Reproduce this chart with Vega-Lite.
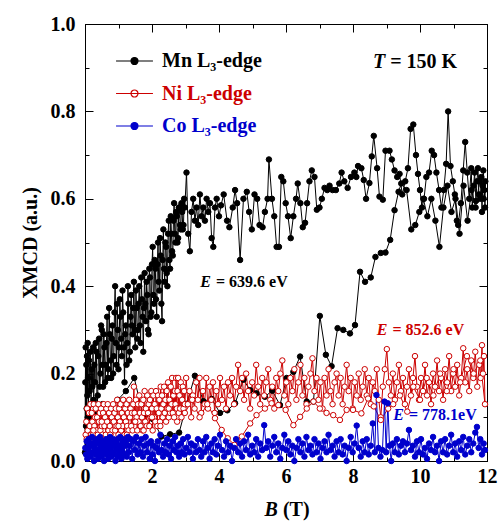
{
"$schema":"https://vega.github.io/schema/vega-lite/v6.json",
"autosize":{"type":"none"},
"width":402,"height":437,
"padding":{"left":85,"top":24,"right":11,"bottom":60},
"config":{
 "font":"Liberation Serif",
 "view":{"stroke":"black","strokeWidth":1},
 "axis":{"grid":false,"domainColor":"black","tickColor":"black","labelColor":"black","titleColor":"black","labelFont":"Liberation Serif","titleFont":"Liberation Serif","labelFontSize":20,"labelFontWeight":"bold","titleFontSize":20,"titleFontWeight":"bold","labelFlush":false,"labelOverlap":false,"tickWidth":1,"domainWidth":1}
},
"data":{"values":[
{"s":"M","x":0,"y":0.02},{"s":"M","x":0.01,"y":0.18},{"s":"M","x":0.02,"y":0.26},{"s":"M","x":0.03,"y":0.08},{"s":"M","x":0.04,"y":0.22},{"s":"M","x":0.05,"y":0.12},{"s":"M","x":0.06,"y":0.24},{"s":"M","x":0.07,"y":0.15},{"s":"M","x":0.08,"y":0.27},{"s":"M","x":0.09,"y":0.19},{"s":"M","x":0.1,"y":0.1},{"s":"M","x":0.12,"y":0.23},{"s":"M","x":0.14,"y":0.16},{"s":"M","x":0.16,"y":0.25},{"s":"M","x":0.18,"y":0.13},{"s":"M","x":0.2,"y":0.21},{"s":"M","x":0.22,"y":0.17},{"s":"M","x":0.24,"y":0.26},{"s":"M","x":0.26,"y":0.14},{"s":"M","x":0.28,"y":0.22},
{"s":"M","x":0.3,"y":0.18},{"s":"M","x":0.32,"y":0.27},{"s":"M","x":0.34,"y":0.25},{"s":"M","x":0.36,"y":0.12},{"s":"M","x":0.38,"y":0.15},{"s":"M","x":0.4,"y":0.24},{"s":"M","x":0.42,"y":0.28},{"s":"M","x":0.44,"y":0.17},{"s":"M","x":0.46,"y":0.2},{"s":"M","x":0.48,"y":0.31},{"s":"M","x":0.5,"y":0.3},{"s":"M","x":0.52,"y":0.22},{"s":"M","x":0.54,"y":0.17},{"s":"M","x":0.56,"y":0.29},{"s":"M","x":0.58,"y":0.26},{"s":"M","x":0.6,"y":0.18},{"s":"M","x":0.62,"y":0.22},{"s":"M","x":0.64,"y":0.27},{"s":"M","x":0.66,"y":0.33},{"s":"M","x":0.68,"y":0.19},{"s":"M","x":0.7,"y":0.21},{"s":"M","x":0.72,"y":0.35},{"s":"M","x":0.74,"y":0.29},{"s":"M","x":0.76,"y":0.23},{"s":"M","x":0.78,"y":0.19},{"s":"M","x":0.8,"y":0.28},{"s":"M","x":0.82,"y":0.31},{"s":"M","x":0.84,"y":0.2},{"s":"M","x":0.86,"y":0.24},{"s":"M","x":0.88,"y":0.34},{"s":"M","x":0.9,"y":0.4},{"s":"M","x":0.92,"y":0.27},{"s":"M","x":0.94,"y":0.22},{"s":"M","x":0.96,"y":0.36},{"s":"M","x":0.98,"y":0.3},{"s":"M","x":1,"y":0.21},{"s":"M","x":1.02,"y":0.26},{"s":"M","x":1.04,"y":0.37},{"s":"M","x":1.06,"y":0.33},{"s":"M","x":1.08,"y":0.28},{"s":"M","x":1.1,"y":0.24},{"s":"M","x":1.12,"y":0.39},{"s":"M","x":1.14,"y":0.34},{"s":"M","x":1.16,"y":0.26},{"s":"M","x":1.18,"y":0.18},{"s":"M","x":1.2,"y":0.29},{"s":"M","x":1.22,"y":0.31},{"s":"M","x":1.24,"y":0.22},{"s":"M","x":1.26,"y":0.27},{"s":"M","x":1.28,"y":0.4},{"s":"M","x":1.3,"y":0.36},{"s":"M","x":1.32,"y":0.23},{"s":"M","x":1.34,"y":0.25},{"s":"M","x":1.36,"y":0.33},{"s":"M","x":1.38,"y":0.38},{"s":"M","x":1.4,"y":0.31},{"s":"M","x":1.42,"y":0.29},{"s":"M","x":1.44,"y":0.35},{"s":"M","x":1.46,"y":0.41},{"s":"M","x":1.48,"y":0.3},{"s":"M","x":1.5,"y":0.26},{"s":"M","x":1.52,"y":0.39},{"s":"M","x":1.54,"y":0.35},{"s":"M","x":1.56,"y":0.28},{"s":"M","x":1.58,"y":0.3},{"s":"M","x":1.6,"y":0.36},{"s":"M","x":1.62,"y":0.4},{"s":"M","x":1.64,"y":0.31},{"s":"M","x":1.66,"y":0.27},{"s":"M","x":1.68,"y":0.42},{"s":"M","x":1.7,"y":0.37},{"s":"M","x":1.72,"y":0.33},{"s":"M","x":1.74,"y":0.25},{"s":"M","x":1.76,"y":0.35},{"s":"M","x":1.78,"y":0.43},{"s":"M","x":1.8,"y":0.36},{"s":"M","x":1.82,"y":0.32},{"s":"M","x":1.84,"y":0.41},{"s":"M","x":1.86,"y":0.38},{"s":"M","x":1.88,"y":0.3},{"s":"M","x":1.9,"y":0.29},{"s":"M","x":1.92,"y":0.44},{"s":"M","x":1.94,"y":0.42},{"s":"M","x":1.96,"y":0.33},{"s":"M","x":1.98,"y":0.34},{"s":"M","x":2,"y":0.45},{"s":"M","x":2.02,"y":0.49},{"s":"M","x":2.04,"y":0.38},{"s":"M","x":2.06,"y":0.36},{"s":"M","x":2.08,"y":0.46},{"s":"M","x":2.1,"y":0.44},{"s":"M","x":2.12,"y":0.37},{"s":"M","x":2.14,"y":0.33},{"s":"M","x":2.16,"y":0.45},{"s":"M","x":2.18,"y":0.5},{"s":"M","x":2.2,"y":0.41},{"s":"M","x":2.22,"y":0.39},{"s":"M","x":2.24,"y":0.51},{"s":"M","x":2.26,"y":0.47},{"s":"M","x":2.28,"y":0.36},{"s":"M","x":2.3,"y":0.32},{"s":"M","x":2.32,"y":0.46},{"s":"M","x":2.34,"y":0.53},{"s":"M","x":2.36,"y":0.44},{"s":"M","x":2.38,"y":0.41},{"s":"M","x":2.4,"y":0.5},{"s":"M","x":2.42,"y":0.49},{"s":"M","x":2.44,"y":0.43},{"s":"M","x":2.46,"y":0.4},{"s":"M","x":2.48,"y":0.52},{"s":"M","x":2.5,"y":0.55},{"s":"M","x":2.52,"y":0.46},{"s":"M","x":2.54,"y":0.44},{"s":"M","x":2.56,"y":0.56},{"s":"M","x":2.58,"y":0.52},{"s":"M","x":2.6,"y":0.48},{"s":"M","x":2.62,"y":0.47},{"s":"M","x":2.64,"y":0.55},{"s":"M","x":2.66,"y":0.59},{"s":"M","x":2.68,"y":0.52},{"s":"M","x":2.7,"y":0.5},{"s":"M","x":2.72,"y":0.57},{"s":"M","x":2.74,"y":0.56},{"s":"M","x":2.76,"y":0.5},{"s":"M","x":2.78,"y":0.51},{"s":"M","x":2.8,"y":0.58},{"s":"M","x":2.82,"y":0.58},{"s":"M","x":2.84,"y":0.54},{"s":"M","x":2.86,"y":0.53},{"s":"M","x":2.88,"y":0.59},{"s":"M","x":2.9,"y":0.57},{"s":"M","x":2.92,"y":0.53},{"s":"M","x":2.94,"y":0.54},{"s":"M","x":2.96,"y":0.6},{"s":"M","x":2.98,"y":0.58},
{"s":"M","x":3.03,"y":0.66},{"s":"M","x":3.08,"y":0.52},{"s":"M","x":3.13,"y":0.48},{"s":"M","x":3.18,"y":0.57},{"s":"M","x":3.23,"y":0.6},{"s":"M","x":3.28,"y":0.55},{"s":"M","x":3.33,"y":0.58},{"s":"M","x":3.38,"y":0.54},{"s":"M","x":3.43,"y":0.61},{"s":"M","x":3.48,"y":0.56},{"s":"M","x":3.53,"y":0.58},{"s":"M","x":3.58,"y":0.55},{"s":"M","x":3.63,"y":0.6},{"s":"M","x":3.68,"y":0.57},{"s":"M","x":3.73,"y":0.59},{"s":"M","x":3.78,"y":0.51},{"s":"M","x":3.83,"y":0.49},{"s":"M","x":3.88,"y":0.58},{"s":"M","x":3.93,"y":0.6},{"s":"M","x":4,"y":0.56},{"s":"M","x":4.06,"y":0.585},{"s":"M","x":4.14,"y":0.61},{"s":"M","x":4.24,"y":0.55},{"s":"M","x":4.31,"y":0.535},{"s":"M","x":4.41,"y":0.58},{"s":"M","x":4.48,"y":0.62},{"s":"M","x":4.54,"y":0.59},{"s":"M","x":4.63,"y":0.46},{"s":"M","x":4.73,"y":0.6},{"s":"M","x":4.83,"y":0.616},{"s":"M","x":4.9,"y":0.57},{"s":"M","x":4.98,"y":0.53},{"s":"M","x":5.06,"y":0.61},{"s":"M","x":5.14,"y":0.6},{"s":"M","x":5.21,"y":0.54},{"s":"M","x":5.3,"y":0.535},{"s":"M","x":5.37,"y":0.57},{"s":"M","x":5.45,"y":0.6},{"s":"M","x":5.49,"y":0.69},{"s":"M","x":5.58,"y":0.6},{"s":"M","x":5.65,"y":0.56},{"s":"M","x":5.72,"y":0.49},{"s":"M","x":5.79,"y":0.49},{"s":"M","x":5.86,"y":0.65},{"s":"M","x":5.92,"y":0.64},{"s":"M","x":5.99,"y":0.59},{"s":"M","x":6.06,"y":0.56},{"s":"M","x":6.14,"y":0.51},{"s":"M","x":6.22,"y":0.56},{"s":"M","x":6.3,"y":0.6},{"s":"M","x":6.35,"y":0.635},{"s":"M","x":6.43,"y":0.59},{"s":"M","x":6.5,"y":0.535},{"s":"M","x":6.57,"y":0.545},{"s":"M","x":6.63,"y":0.59},{"s":"M","x":6.7,"y":0.64},{"s":"M","x":6.77,"y":0.665},{"s":"M","x":6.85,"y":0.65},{"s":"M","x":6.92,"y":0.575},{"s":"M","x":7,"y":0.58},{"s":"M","x":7.07,"y":0.6},{"s":"M","x":7.15,"y":0.625},{"s":"M","x":7.23,"y":0.62},{"s":"M","x":7.3,"y":0.63},{"s":"M","x":7.39,"y":0.62},{"s":"M","x":7.49,"y":0.62},{"s":"M","x":7.59,"y":0.635},{"s":"M","x":7.66,"y":0.66},{"s":"M","x":7.74,"y":0.64},{"s":"M","x":7.84,"y":0.625},{"s":"M","x":7.94,"y":0.65},{"s":"M","x":8.04,"y":0.66},{"s":"M","x":8.1,"y":0.65},{"s":"M","x":8.15,"y":0.675},{"s":"M","x":8.25,"y":0.67},{"s":"M","x":8.32,"y":0.643},{"s":"M","x":8.39,"y":0.6},{"s":"M","x":8.49,"y":0.636},{"s":"M","x":8.56,"y":0.697},{"s":"M","x":8.62,"y":0.744},{"s":"M","x":8.72,"y":0.67},{"s":"M","x":8.79,"y":0.605},{"s":"M","x":8.89,"y":0.598},{"s":"M","x":8.97,"y":0.71},{"s":"M","x":9.09,"y":0.71},{"s":"M","x":9.16,"y":0.69},{"s":"M","x":9.24,"y":0.665},{"s":"M","x":9.32,"y":0.65},{"s":"M","x":9.39,"y":0.657},{"s":"M","x":9.47,"y":0.61},{"s":"M","x":9.56,"y":0.64},{"s":"M","x":9.64,"y":0.67},{"s":"M","x":9.72,"y":0.76},{"s":"M","x":9.8,"y":0.77},{"s":"M","x":9.88,"y":0.7},{"s":"M","x":9.94,"y":0.657},{"s":"M","x":10,"y":0.62},{"s":"M","x":10.06,"y":0.58},{"s":"M","x":10.12,"y":0.6},{"s":"M","x":10.19,"y":0.65},{"s":"M","x":10.27,"y":0.66},{"s":"M","x":10.35,"y":0.71},{"s":"M","x":10.42,"y":0.7},{"s":"M","x":10.49,"y":0.66},{"s":"M","x":10.57,"y":0.62},{"s":"M","x":10.64,"y":0.58},{"s":"M","x":10.71,"y":0.62},{"s":"M","x":10.78,"y":0.68},{"s":"M","x":10.84,"y":0.8},{"s":"M","x":10.91,"y":0.675},{"s":"M","x":10.98,"y":0.64},{"s":"M","x":11.04,"y":0.61},{"s":"M","x":11.1,"y":0.55},{"s":"M","x":11.14,"y":0.54},{"s":"M","x":11.22,"y":0.59},{"s":"M","x":11.29,"y":0.665},{"s":"M","x":11.35,"y":0.73},{"s":"M","x":11.41,"y":0.66},{"s":"M","x":11.47,"y":0.6},{"s":"M","x":11.53,"y":0.67},{"s":"M","x":11.56,"y":0.58},{"s":"M","x":11.6,"y":0.63},{"s":"M","x":11.63,"y":0.66},{"s":"M","x":11.67,"y":0.595},{"s":"M","x":11.7,"y":0.64},{"s":"M","x":11.73,"y":0.67},{"s":"M","x":11.76,"y":0.61},{"s":"M","x":11.8,"y":0.6},{"s":"M","x":11.83,"y":0.65},{"s":"M","x":11.85,"y":0.57},{"s":"M","x":11.87,"y":0.63},{"s":"M","x":11.89,"y":0.665},{"s":"M","x":11.92,"y":0.62},{"s":"M","x":11.94,"y":0.58},{"s":"M","x":11.95,"y":0.64},
{"s":"M","x":11.9,"y":0.6},{"s":"M","x":11.78,"y":0.64},{"s":"M","x":11.66,"y":0.58},{"s":"M","x":11.54,"y":0.62},{"s":"M","x":11.42,"y":0.55},{"s":"M","x":11.3,"y":0.63},{"s":"M","x":11.18,"y":0.52},{"s":"M","x":11.06,"y":0.6},{"s":"M","x":10.94,"y":0.57},{"s":"M","x":10.82,"y":0.63},{"s":"M","x":10.7,"y":0.58},{"s":"M","x":10.58,"y":0.49},{"s":"M","x":10.46,"y":0.55},{"s":"M","x":10.34,"y":0.6},{"s":"M","x":10.22,"y":0.56},{"s":"M","x":10.1,"y":0.6},{"s":"M","x":9.98,"y":0.57},{"s":"M","x":9.86,"y":0.54},{"s":"M","x":9.74,"y":0.53},{"s":"M","x":9.6,"y":0.62},{"s":"M","x":9.44,"y":0.635},{"s":"M","x":9.36,"y":0.616},{"s":"M","x":9.24,"y":0.574},{"s":"M","x":9.11,"y":0.506},{"s":"M","x":8.97,"y":0.477},{"s":"M","x":8.83,"y":0.476},{"s":"M","x":8.67,"y":0.467},{"s":"M","x":8.53,"y":0.42},{"s":"M","x":8.36,"y":0.41},{"s":"M","x":8.21,"y":0.433},{"s":"M","x":8.06,"y":0.311},{"s":"M","x":7.91,"y":0.292},{"s":"M","x":7.71,"y":0.3},{"s":"M","x":7.54,"y":0.304},{"s":"M","x":7.36,"y":0.217},{"s":"M","x":7.19,"y":0.243},{"s":"M","x":7.01,"y":0.332},{"s":"M","x":6.82,"y":0.136},{"s":"M","x":6.62,"y":0.136},{"s":"M","x":6.42,"y":0.239},{"s":"M","x":6.22,"y":0.204},{"s":"M","x":6.02,"y":0.19},{"s":"M","x":5.82,"y":0.128},{"s":"M","x":5.59,"y":0.161},{"s":"M","x":5.37,"y":0.147},{"s":"M","x":5.12,"y":0.155},{"s":"M","x":4.93,"y":0.162},{"s":"M","x":4.73,"y":0.186},{"s":"M","x":4.48,"y":0.132},{"s":"M","x":4.25,"y":0.116},{"s":"M","x":4.03,"y":0.11},{"s":"M","x":3.78,"y":0.142},{"s":"M","x":3.53,"y":0.137},{"s":"M","x":3.28,"y":0.195},{"s":"M","x":3.04,"y":0.131},{"s":"M","x":2.81,"y":0.065},{"s":"M","x":2.54,"y":0.061},{"s":"M","x":2.28,"y":0.056},{"s":"M","x":2.02,"y":0.096},{"s":"M","x":1.73,"y":0.106},{"s":"M","x":1.47,"y":0.19},{"s":"M","x":1.22,"y":0.16},{"s":"M","x":0.98,"y":0.14},{"s":"M","x":0.74,"y":0.12},{"s":"M","x":0.52,"y":0.13},{"s":"M","x":0.3,"y":0.105},{"s":"M","x":0.08,"y":0.1},
{"s":"N","x":0.02,"y":0.06},{"s":"N","x":0.04,"y":0.09},{"s":"N","x":0.06,"y":0.12},{"s":"N","x":0.08,"y":0.07},{"s":"N","x":0.1,"y":0.05},{"s":"N","x":0.12,"y":0.11},{"s":"N","x":0.14,"y":0.08},{"s":"N","x":0.16,"y":0.13},{"s":"N","x":0.18,"y":0.06},{"s":"N","x":0.2,"y":0.11},{"s":"N","x":0.22,"y":0.09},{"s":"N","x":0.24,"y":0.06},{"s":"N","x":0.26,"y":0.13},{"s":"N","x":0.28,"y":0.08},{"s":"N","x":0.3,"y":0.1},{"s":"N","x":0.32,"y":0.12},{"s":"N","x":0.34,"y":0.07},{"s":"N","x":0.36,"y":0.1},{"s":"N","x":0.38,"y":0.06},{"s":"N","x":0.4,"y":0.13},{"s":"N","x":0.42,"y":0.09},{"s":"N","x":0.44,"y":0.11},{"s":"N","x":0.46,"y":0.07},{"s":"N","x":0.48,"y":0.12},{"s":"N","x":0.5,"y":0.08},{"s":"N","x":0.52,"y":0.06},{"s":"N","x":0.54,"y":0.11},{"s":"N","x":0.56,"y":0.13},{"s":"N","x":0.58,"y":0.08},{"s":"N","x":0.6,"y":0.1},{"s":"N","x":0.62,"y":0.06},{"s":"N","x":0.64,"y":0.12},{"s":"N","x":0.66,"y":0.09},{"s":"N","x":0.68,"y":0.13},{"s":"N","x":0.7,"y":0.07},{"s":"N","x":0.72,"y":0.11},{"s":"N","x":0.74,"y":0.08},{"s":"N","x":0.76,"y":0.06},{"s":"N","x":0.78,"y":0.12},{"s":"N","x":0.8,"y":0.1},{"s":"N","x":0.82,"y":0.07},{"s":"N","x":0.84,"y":0.13},{"s":"N","x":0.86,"y":0.09},{"s":"N","x":0.88,"y":0.11},{"s":"N","x":0.9,"y":0.07},{"s":"N","x":0.92,"y":0.12},{"s":"N","x":0.94,"y":0.08},{"s":"N","x":0.96,"y":0.14},{"s":"N","x":0.98,"y":0.1},{"s":"N","x":1,"y":0.06},{"s":"N","x":1.02,"y":0.12},{"s":"N","x":1.04,"y":0.09},{"s":"N","x":1.06,"y":0.13},{"s":"N","x":1.08,"y":0.07},{"s":"N","x":1.1,"y":0.11},{"s":"N","x":1.12,"y":0.08},{"s":"N","x":1.14,"y":0.14},{"s":"N","x":1.16,"y":0.1},{"s":"N","x":1.18,"y":0.06},{"s":"N","x":1.2,"y":0.12},{"s":"N","x":1.22,"y":0.09},{"s":"N","x":1.24,"y":0.13},{"s":"N","x":1.26,"y":0.08},{"s":"N","x":1.28,"y":0.11},{"s":"N","x":1.3,"y":0.07},{"s":"N","x":1.32,"y":0.14},{"s":"N","x":1.34,"y":0.1},{"s":"N","x":1.36,"y":0.12},{"s":"N","x":1.38,"y":0.08},{"s":"N","x":1.4,"y":0.11},{"s":"N","x":1.42,"y":0.07},{"s":"N","x":1.44,"y":0.13},{"s":"N","x":1.46,"y":0.17},{"s":"N","x":1.48,"y":0.11},{"s":"N","x":1.5,"y":0.09},{"s":"N","x":1.52,"y":0.14},{"s":"N","x":1.54,"y":0.1},{"s":"N","x":1.56,"y":0.07},{"s":"N","x":1.58,"y":0.13},{"s":"N","x":1.6,"y":0.09},{"s":"N","x":1.62,"y":0.15},{"s":"N","x":1.64,"y":0.11},{"s":"N","x":1.66,"y":0.08},{"s":"N","x":1.68,"y":0.13},{"s":"N","x":1.7,"y":0.1},{"s":"N","x":1.72,"y":0.07},{"s":"N","x":1.74,"y":0.14},{"s":"N","x":1.76,"y":0.11},{"s":"N","x":1.78,"y":0.16},{"s":"N","x":1.8,"y":0.09},{"s":"N","x":1.82,"y":0.12},{"s":"N","x":1.84,"y":0.08},{"s":"N","x":1.86,"y":0.15},{"s":"N","x":1.88,"y":0.11},{"s":"N","x":1.9,"y":0.13},{"s":"N","x":1.92,"y":0.08},{"s":"N","x":1.94,"y":0.14},{"s":"N","x":1.96,"y":0.1},{"s":"N","x":1.98,"y":0.16},{"s":"N","x":2,"y":0.12},{"s":"N","x":2.02,"y":0.07},{"s":"N","x":2.04,"y":0.15},{"s":"N","x":2.06,"y":0.1},{"s":"N","x":2.08,"y":0.13},{"s":"N","x":2.1,"y":0.09},{"s":"N","x":2.12,"y":0.16},{"s":"N","x":2.14,"y":0.12},{"s":"N","x":2.16,"y":0.08},{"s":"N","x":2.18,"y":0.15},{"s":"N","x":2.2,"y":0.11},{"s":"N","x":2.22,"y":0.14},{"s":"N","x":2.24,"y":0.09},{"s":"N","x":2.26,"y":0.17},{"s":"N","x":2.28,"y":0.12},{"s":"N","x":2.3,"y":0.15},{"s":"N","x":2.32,"y":0.1},{"s":"N","x":2.34,"y":0.13},{"s":"N","x":2.36,"y":0.17},{"s":"N","x":2.38,"y":0.11},{"s":"N","x":2.4,"y":0.14},{"s":"N","x":2.42,"y":0.09},{"s":"N","x":2.44,"y":0.16},{"s":"N","x":2.46,"y":0.12},{"s":"N","x":2.48,"y":0.18},{"s":"N","x":2.5,"y":0.1},{"s":"N","x":2.52,"y":0.14},{"s":"N","x":2.54,"y":0.11},{"s":"N","x":2.56,"y":0.17},{"s":"N","x":2.58,"y":0.13},{"s":"N","x":2.6,"y":0.19},{"s":"N","x":2.62,"y":0.11},{"s":"N","x":2.64,"y":0.15},{"s":"N","x":2.66,"y":0.1},{"s":"N","x":2.68,"y":0.16},{"s":"N","x":2.7,"y":0.13},{"s":"N","x":2.72,"y":0.19},{"s":"N","x":2.74,"y":0.12},{"s":"N","x":2.76,"y":0.16},{"s":"N","x":2.78,"y":0.19},{"s":"N","x":2.8,"y":0.11},{"s":"N","x":2.82,"y":0.15},{"s":"N","x":2.84,"y":0.12},{"s":"N","x":2.86,"y":0.18},{"s":"N","x":2.88,"y":0.1},{"s":"N","x":2.9,"y":0.14},{"s":"N","x":2.92,"y":0.17},{"s":"N","x":2.94,"y":0.12},{"s":"N","x":2.96,"y":0.16},{"s":"N","x":2.98,"y":0.13},
{"s":"N","x":3.02,"y":0.19},{"s":"N","x":3.07,"y":0.13},{"s":"N","x":3.12,"y":0.16},{"s":"N","x":3.17,"y":0.1},{"s":"N","x":3.22,"y":0.15},{"s":"N","x":3.27,"y":0.12},{"s":"N","x":3.32,"y":0.18},{"s":"N","x":3.37,"y":0.14},{"s":"N","x":3.42,"y":0.19},{"s":"N","x":3.47,"y":0.11},{"s":"N","x":3.52,"y":0.16},{"s":"N","x":3.57,"y":0.13},{"s":"N","x":3.62,"y":0.19},{"s":"N","x":3.67,"y":0.12},{"s":"N","x":3.72,"y":0.17},{"s":"N","x":3.77,"y":0.14},{"s":"N","x":3.82,"y":0.18},{"s":"N","x":3.87,"y":0.11},{"s":"N","x":3.92,"y":0.16},{"s":"N","x":3.97,"y":0.13},{"s":"N","x":4.03,"y":0.19},{"s":"N","x":4.09,"y":0.14},{"s":"N","x":4.15,"y":0.17},{"s":"N","x":4.21,"y":0.12},{"s":"N","x":4.27,"y":0.18},{"s":"N","x":4.33,"y":0.15},{"s":"N","x":4.39,"y":0.19},{"s":"N","x":4.45,"y":0.13},{"s":"N","x":4.51,"y":0.17},{"s":"N","x":4.57,"y":0.22},{"s":"N","x":4.63,"y":0.16},{"s":"N","x":4.69,"y":0.19},{"s":"N","x":4.75,"y":0.14},{"s":"N","x":4.81,"y":0.2},{"s":"N","x":4.87,"y":0.16},{"s":"N","x":4.93,"y":0.12},{"s":"N","x":4.99,"y":0.18},{"s":"N","x":5.05,"y":0.15},{"s":"N","x":5.11,"y":0.22},{"s":"N","x":5.17,"y":0.17},{"s":"N","x":5.23,"y":0.13},{"s":"N","x":5.29,"y":0.19},{"s":"N","x":5.35,"y":0.15},{"s":"N","x":5.41,"y":0.18},{"s":"N","x":5.47,"y":0.21},{"s":"N","x":5.53,"y":0.14},{"s":"N","x":5.59,"y":0.17},{"s":"N","x":5.65,"y":0.12},{"s":"N","x":5.71,"y":0.19},{"s":"N","x":5.77,"y":0.16},{"s":"N","x":5.83,"y":0.2},{"s":"N","x":5.89,"y":0.23},{"s":"N","x":5.95,"y":0.15},{"s":"N","x":6.01,"y":0.18},{"s":"N","x":6.07,"y":0.13},{"s":"N","x":6.13,"y":0.19},{"s":"N","x":6.19,"y":0.16},{"s":"N","x":6.25,"y":0.21},{"s":"N","x":6.31,"y":0.14},{"s":"N","x":6.37,"y":0.18},{"s":"N","x":6.43,"y":0.22},{"s":"N","x":6.49,"y":0.15},{"s":"N","x":6.55,"y":0.19},{"s":"N","x":6.61,"y":0.13},{"s":"N","x":6.67,"y":0.17},{"s":"N","x":6.73,"y":0.2},{"s":"N","x":6.79,"y":0.235},{"s":"N","x":6.85,"y":0.16},{"s":"N","x":6.91,"y":0.19},{"s":"N","x":6.97,"y":0.14},{"s":"N","x":7.03,"y":0.18},{"s":"N","x":7.09,"y":0.12},{"s":"N","x":7.15,"y":0.19},{"s":"N","x":7.21,"y":0.15},{"s":"N","x":7.27,"y":0.21},{"s":"N","x":7.33,"y":0.16},{"s":"N","x":7.39,"y":0.13},{"s":"N","x":7.45,"y":0.18},{"s":"N","x":7.51,"y":0.2},{"s":"N","x":7.57,"y":0.15},{"s":"N","x":7.63,"y":0.19},{"s":"N","x":7.69,"y":0.13},{"s":"N","x":7.75,"y":0.17},{"s":"N","x":7.81,"y":0.22},{"s":"N","x":7.87,"y":0.16},{"s":"N","x":7.93,"y":0.19},{"s":"N","x":7.99,"y":0.12},{"s":"N","x":8.05,"y":0.18},{"s":"N","x":8.11,"y":0.15},{"s":"N","x":8.17,"y":0.2},{"s":"N","x":8.23,"y":0.14},{"s":"N","x":8.29,"y":0.17},{"s":"N","x":8.35,"y":0.21},{"s":"N","x":8.41,"y":0.15},{"s":"N","x":8.47,"y":0.19},{"s":"N","x":8.53,"y":0.13},{"s":"N","x":8.59,"y":0.18},{"s":"N","x":8.65,"y":0.16},{"s":"N","x":8.71,"y":0.21},{"s":"N","x":8.77,"y":0.14},{"s":"N","x":8.83,"y":0.1},{"s":"N","x":8.89,"y":0.17},{"s":"N","x":8.95,"y":0.21},{"s":"N","x":9.01,"y":0.256},{"s":"N","x":9.07,"y":0.18},{"s":"N","x":9.13,"y":0.15},{"s":"N","x":9.19,"y":0.2},{"s":"N","x":9.25,"y":0.14},{"s":"N","x":9.31,"y":0.18},{"s":"N","x":9.37,"y":0.22},{"s":"N","x":9.43,"y":0.16},{"s":"N","x":9.49,"y":0.19},{"s":"N","x":9.55,"y":0.13},{"s":"N","x":9.61,"y":0.17},{"s":"N","x":9.67,"y":0.21},{"s":"N","x":9.73,"y":0.15},{"s":"N","x":9.79,"y":0.19},{"s":"N","x":9.85,"y":0.24},{"s":"N","x":9.91,"y":0.17},{"s":"N","x":9.97,"y":0.14},{"s":"N","x":10.03,"y":0.19},{"s":"N","x":10.09,"y":0.16},{"s":"N","x":10.15,"y":0.22},{"s":"N","x":10.21,"y":0.15},{"s":"N","x":10.27,"y":0.18},{"s":"N","x":10.33,"y":0.13},{"s":"N","x":10.39,"y":0.2},{"s":"N","x":10.45,"y":0.17},{"s":"N","x":10.51,"y":0.23},{"s":"N","x":10.57,"y":0.16},{"s":"N","x":10.63,"y":0.19},{"s":"N","x":10.69,"y":0.14},{"s":"N","x":10.75,"y":0.21},{"s":"N","x":10.81,"y":0.18},{"s":"N","x":10.87,"y":0.24},{"s":"N","x":10.93,"y":0.16},{"s":"N","x":10.99,"y":0.2},{"s":"N","x":11.05,"y":0.17},{"s":"N","x":11.11,"y":0.22},{"s":"N","x":11.17,"y":0.15},{"s":"N","x":11.23,"y":0.19},{"s":"N","x":11.29,"y":0.258},{"s":"N","x":11.35,"y":0.18},{"s":"N","x":11.41,"y":0.21},{"s":"N","x":11.47,"y":0.16},{"s":"N","x":11.53,"y":0.23},{"s":"N","x":11.59,"y":0.19},{"s":"N","x":11.65,"y":0.25},{"s":"N","x":11.71,"y":0.17},{"s":"N","x":11.77,"y":0.22},{"s":"N","x":11.81,"y":0.19},{"s":"N","x":11.85,"y":0.265},{"s":"N","x":11.88,"y":0.2},{"s":"N","x":11.91,"y":0.24},{"s":"N","x":11.94,"y":0.13},
{"s":"N","x":11.8,"y":0.23},{"s":"N","x":11.6,"y":0.2},{"s":"N","x":11.4,"y":0.24},{"s":"N","x":11.2,"y":0.18},{"s":"N","x":11,"y":0.21},{"s":"N","x":10.8,"y":0.16},{"s":"N","x":10.6,"y":0.2},{"s":"N","x":10.4,"y":0.15},{"s":"N","x":10.2,"y":0.19},{"s":"N","x":10,"y":0.14},{"s":"N","x":9.8,"y":0.17},{"s":"N","x":9.62,"y":0.113},{"s":"N","x":9.4,"y":0.15},{"s":"N","x":9.2,"y":0.13},{"s":"N","x":9.05,"y":0.12},{"s":"N","x":8.83,"y":0.094},{"s":"N","x":8.62,"y":0.125},{"s":"N","x":8.45,"y":0.143},{"s":"N","x":8.25,"y":0.109},{"s":"N","x":8,"y":0.117},{"s":"N","x":7.81,"y":0.117},{"s":"N","x":7.61,"y":0.094},{"s":"N","x":7.41,"y":0.105},{"s":"N","x":7.21,"y":0.11},{"s":"N","x":7.01,"y":0.12},{"s":"N","x":6.82,"y":0.136},{"s":"N","x":6.62,"y":0.12},{"s":"N","x":6.42,"y":0.101},{"s":"N","x":6.22,"y":0.082},{"s":"N","x":5.99,"y":0.117},{"s":"N","x":5.77,"y":0.128},{"s":"N","x":5.57,"y":0.132},{"s":"N","x":5.37,"y":0.12},{"s":"N","x":5.12,"y":0.105},{"s":"N","x":4.93,"y":0.086},{"s":"N","x":4.68,"y":0.056},{"s":"N","x":4.46,"y":0.037},{"s":"N","x":4.26,"y":0.052},{"s":"N","x":4.08,"y":0.071},{"s":"N","x":3.88,"y":0.098},{"s":"N","x":3.65,"y":0.13},{"s":"N","x":3.42,"y":0.1},{"s":"N","x":3.2,"y":0.14},{"s":"N","x":2.98,"y":0.11},{"s":"N","x":2.75,"y":0.09},{"s":"N","x":2.5,"y":0.12},{"s":"N","x":2.25,"y":0.08},{"s":"N","x":2,"y":0.1},{"s":"N","x":1.75,"y":0.07},{"s":"N","x":1.5,"y":0.09},{"s":"N","x":1.25,"y":0.06},{"s":"N","x":1,"y":0.08},{"s":"N","x":0.75,"y":0.06},{"s":"N","x":0.5,"y":0.09},{"s":"N","x":0.25,"y":0.07},{"s":"N","x":0.05,"y":0.05},
{"s":"C","x":0.01,"y":0.03},{"s":"C","x":0.03,"y":0.015},{"s":"C","x":0.05,"y":0.045},{"s":"C","x":0.07,"y":0.005},{"s":"C","x":0.09,"y":0.03},{"s":"C","x":0.11,"y":0.05},{"s":"C","x":0.13,"y":0.02},{"s":"C","x":0.15,"y":0.04},{"s":"C","x":0.17,"y":0.01},{"s":"C","x":0.19,"y":0.035},{"s":"C","x":0.21,"y":0.055},{"s":"C","x":0.23,"y":0.02},{"s":"C","x":0.25,"y":0.04},{"s":"C","x":0.27,"y":0},{"s":"C","x":0.29,"y":0.03},{"s":"C","x":0.31,"y":0.045},{"s":"C","x":0.33,"y":0.015},{"s":"C","x":0.35,"y":0.05},{"s":"C","x":0.37,"y":0.025},{"s":"C","x":0.39,"y":0.005},{"s":"C","x":0.41,"y":0.04},{"s":"C","x":0.43,"y":0.02},{"s":"C","x":0.45,"y":0.055},{"s":"C","x":0.47,"y":0.03},{"s":"C","x":0.49,"y":0.01},{"s":"C","x":0.51,"y":0.045},{"s":"C","x":0.53,"y":0.02},{"s":"C","x":0.55,"y":0.035},{"s":"C","x":0.57,"y":0},{"s":"C","x":0.59,"y":0.04},{"s":"C","x":0.61,"y":0.025},{"s":"C","x":0.63,"y":0.05},{"s":"C","x":0.65,"y":0.015},{"s":"C","x":0.67,"y":0.035},{"s":"C","x":0.69,"y":0.005},{"s":"C","x":0.71,"y":0.045},{"s":"C","x":0.73,"y":0.02},{"s":"C","x":0.75,"y":0.055},{"s":"C","x":0.77,"y":0.03},{"s":"C","x":0.79,"y":0.01},{"s":"C","x":0.81,"y":0.04},{"s":"C","x":0.83,"y":0.02},{"s":"C","x":0.85,"y":0.05},{"s":"C","x":0.87,"y":0.015},{"s":"C","x":0.89,"y":0.035},{"s":"C","x":0.91,"y":0},{"s":"C","x":0.93,"y":0.045},{"s":"C","x":0.95,"y":0.025},{"s":"C","x":0.97,"y":0.05},{"s":"C","x":0.99,"y":0.01},{"s":"C","x":1.01,"y":0.035},{"s":"C","x":1.03,"y":0.02},{"s":"C","x":1.05,"y":0.055},{"s":"C","x":1.07,"y":0.03},{"s":"C","x":1.09,"y":0.005},{"s":"C","x":1.11,"y":0.04},{"s":"C","x":1.13,"y":0.02},{"s":"C","x":1.15,"y":0.05},{"s":"C","x":1.17,"y":0.015},{"s":"C","x":1.19,"y":0.035},{"s":"C","x":1.22,"y":0.045},{"s":"C","x":1.25,"y":0.01},{"s":"C","x":1.28,"y":0.055},{"s":"C","x":1.31,"y":0.02},{"s":"C","x":1.34,"y":0.035},{"s":"C","x":1.37,"y":0.05},{"s":"C","x":1.41,"y":0.005},{"s":"C","x":1.45,"y":0.045},{"s":"C","x":1.49,"y":0.025},{"s":"C","x":1.53,"y":0.055},{"s":"C","x":1.57,"y":0.015},{"s":"C","x":1.61,"y":0.04},{"s":"C","x":1.65,"y":0.02},{"s":"C","x":1.69,"y":0.05},{"s":"C","x":1.73,"y":0.01},{"s":"C","x":1.77,"y":0.035},{"s":"C","x":1.81,"y":0.055},{"s":"C","x":1.85,"y":0.02},{"s":"C","x":1.89,"y":0.04},{"s":"C","x":1.93,"y":0.005},{"s":"C","x":1.97,"y":0.045},
{"s":"C","x":2.01,"y":0.015},{"s":"C","x":2.05,"y":0.035},{"s":"C","x":2.09,"y":0},{"s":"C","x":2.13,"y":0.03},{"s":"C","x":2.17,"y":0.045},{"s":"C","x":2.21,"y":0.02},{"s":"C","x":2.25,"y":0.06},{"s":"C","x":2.29,"y":0.025},{"s":"C","x":2.33,"y":0.01},{"s":"C","x":2.37,"y":0.04},{"s":"C","x":2.41,"y":0.02},{"s":"C","x":2.45,"y":0.05},{"s":"C","x":2.49,"y":0.015},{"s":"C","x":2.53,"y":0.035},{"s":"C","x":2.57,"y":0.005},{"s":"C","x":2.61,"y":0.045},{"s":"C","x":2.65,"y":0.025},{"s":"C","x":2.69,"y":0.055},{"s":"C","x":2.73,"y":0.02},{"s":"C","x":2.77,"y":0.035},{"s":"C","x":2.81,"y":0.01},{"s":"C","x":2.85,"y":0.04},{"s":"C","x":2.89,"y":0.02},{"s":"C","x":2.93,"y":0.05},{"s":"C","x":2.97,"y":0.015},{"s":"C","x":3.02,"y":0.03},{"s":"C","x":3.07,"y":0.055},{"s":"C","x":3.12,"y":0.02},{"s":"C","x":3.17,"y":0.04},{"s":"C","x":3.22,"y":0.005},{"s":"C","x":3.27,"y":0.035},{"s":"C","x":3.32,"y":0.02},{"s":"C","x":3.37,"y":0.05},{"s":"C","x":3.42,"y":0.025},{"s":"C","x":3.47,"y":0.01},{"s":"C","x":3.52,"y":0.045},{"s":"C","x":3.57,"y":0.02},{"s":"C","x":3.62,"y":0.055},{"s":"C","x":3.67,"y":0.03},{"s":"C","x":3.72,"y":0.005},{"s":"C","x":3.77,"y":0.04},{"s":"C","x":3.82,"y":0.02},{"s":"C","x":3.87,"y":0.05},{"s":"C","x":3.92,"y":0.015},{"s":"C","x":3.97,"y":0.035},{"s":"C","x":4.03,"y":0.06},{"s":"C","x":4.09,"y":0.025},{"s":"C","x":4.15,"y":0.01},{"s":"C","x":4.21,"y":0.045},{"s":"C","x":4.27,"y":0.02},{"s":"C","x":4.33,"y":0.035},{"s":"C","x":4.39,"y":0},{"s":"C","x":4.45,"y":0.03},{"s":"C","x":4.51,"y":0.05},{"s":"C","x":4.57,"y":0.02},{"s":"C","x":4.63,"y":0.04},{"s":"C","x":4.69,"y":0.01},{"s":"C","x":4.75,"y":0.045},{"s":"C","x":4.81,"y":0.025},{"s":"C","x":4.87,"y":0.06},{"s":"C","x":4.93,"y":0.015},{"s":"C","x":4.99,"y":0.035},{"s":"C","x":5.05,"y":0.02},{"s":"C","x":5.11,"y":0.05},{"s":"C","x":5.17,"y":0.01},{"s":"C","x":5.23,"y":0.04},{"s":"C","x":5.29,"y":0.025},{"s":"C","x":5.35,"y":0.082},{"s":"C","x":5.41,"y":0.03},{"s":"C","x":5.47,"y":0.045},{"s":"C","x":5.53,"y":0.01},{"s":"C","x":5.59,"y":0.035},{"s":"C","x":5.65,"y":0.055},{"s":"C","x":5.71,"y":0.02},{"s":"C","x":5.77,"y":0.04},{"s":"C","x":5.83,"y":0.005},{"s":"C","x":5.89,"y":0.03},{"s":"C","x":5.95,"y":0.06},{"s":"C","x":6.01,"y":0.025},{"s":"C","x":6.07,"y":0.045},{"s":"C","x":6.13,"y":0.015},{"s":"C","x":6.19,"y":0.035},{"s":"C","x":6.25,"y":0},{"s":"C","x":6.31,"y":0.03},{"s":"C","x":6.37,"y":0.05},{"s":"C","x":6.43,"y":0.02},{"s":"C","x":6.49,"y":0.04},{"s":"C","x":6.55,"y":0.01},{"s":"C","x":6.61,"y":0.055},{"s":"C","x":6.67,"y":0.025},{"s":"C","x":6.73,"y":0.035},{"s":"C","x":6.79,"y":0.015},{"s":"C","x":6.85,"y":0.05},{"s":"C","x":6.91,"y":0.02},{"s":"C","x":6.97,"y":0.04},{"s":"C","x":7.03,"y":0.005},{"s":"C","x":7.09,"y":0.03},{"s":"C","x":7.15,"y":0.045},{"s":"C","x":7.21,"y":0.02},{"s":"C","x":7.27,"y":0.06},{"s":"C","x":7.33,"y":0.025},{"s":"C","x":7.39,"y":0.035},{"s":"C","x":7.45,"y":0.01},{"s":"C","x":7.51,"y":0.045},{"s":"C","x":7.57,"y":0.02},{"s":"C","x":7.63,"y":0.05},{"s":"C","x":7.69,"y":0.015},{"s":"C","x":7.75,"y":0.035},{"s":"C","x":7.81,"y":0},{"s":"C","x":7.87,"y":0.03},{"s":"C","x":7.93,"y":0.055},{"s":"C","x":7.99,"y":0.02},{"s":"C","x":8.05,"y":0.04},{"s":"C","x":8.11,"y":0.081},{"s":"C","x":8.17,"y":0.03},{"s":"C","x":8.23,"y":0.01},{"s":"C","x":8.29,"y":0.045},{"s":"C","x":8.35,"y":0.02},{"s":"C","x":8.41,"y":0.05},{"s":"C","x":8.47,"y":0.015},{"s":"C","x":8.53,"y":0.035},{"s":"C","x":8.59,"y":0.086},{"s":"C","x":8.65,"y":0.02},{"s":"C","x":8.7,"y":0.151},{"s":"C","x":8.76,"y":0.03},{"s":"C","x":8.82,"y":0.01},{"s":"C","x":8.88,"y":0.025},{"s":"C","x":8.94,"y":0.136},{"s":"C","x":8.99,"y":0.02},{"s":"C","x":9.04,"y":0.132},{"s":"C","x":9.09,"y":0.035},{"s":"C","x":9.14,"y":0},{"s":"C","x":9.19,"y":0.04},{"s":"C","x":9.25,"y":0.02},{"s":"C","x":9.31,"y":0.05},{"s":"C","x":9.37,"y":0.015},{"s":"C","x":9.43,"y":0.035},{"s":"C","x":9.49,"y":0.045},{"s":"C","x":9.55,"y":0.02},{"s":"C","x":9.61,"y":0.04},{"s":"C","x":9.67,"y":0.071},{"s":"C","x":9.73,"y":0.025},{"s":"C","x":9.79,"y":0.035},{"s":"C","x":9.85,"y":0.01},{"s":"C","x":9.91,"y":0.045},{"s":"C","x":9.97,"y":0.02},{"s":"C","x":10.03,"y":0.05},{"s":"C","x":10.09,"y":0.015},{"s":"C","x":10.15,"y":0.03},{"s":"C","x":10.21,"y":0.005},{"s":"C","x":10.27,"y":0.04},{"s":"C","x":10.33,"y":0.025},{"s":"C","x":10.39,"y":0.055},{"s":"C","x":10.45,"y":0.02},{"s":"C","x":10.51,"y":0.035},{"s":"C","x":10.57,"y":0},{"s":"C","x":10.63,"y":0.045},{"s":"C","x":10.69,"y":0.02},{"s":"C","x":10.75,"y":0.05},{"s":"C","x":10.81,"y":0.015},{"s":"C","x":10.87,"y":0.035},{"s":"C","x":10.93,"y":0.06},{"s":"C","x":10.99,"y":0.02},{"s":"C","x":11.05,"y":0.04},{"s":"C","x":11.11,"y":0.01},{"s":"C","x":11.17,"y":0.045},{"s":"C","x":11.23,"y":0.025},{"s":"C","x":11.29,"y":0.055},{"s":"C","x":11.35,"y":0.015},{"s":"C","x":11.41,"y":0.035},{"s":"C","x":11.47,"y":0.05},{"s":"C","x":11.53,"y":0.02},{"s":"C","x":11.59,"y":0.04},{"s":"C","x":11.65,"y":0.065},{"s":"C","x":11.7,"y":0.078},{"s":"C","x":11.75,"y":0.03},{"s":"C","x":11.8,"y":0.05},{"s":"C","x":11.85,"y":0.015},{"s":"C","x":11.9,"y":0.04},{"s":"C","x":11.94,"y":0.025}
]},
"layer":[
 {"mark":{"type":"line","strokeWidth":1},
  "encoding":{
   "x":{"field":"x","type":"quantitative","scale":{"domain":[0,12],"nice":false,"zero":false},"axis":null},
   "y":{"field":"y","type":"quantitative","scale":{"domain":[0,1],"nice":false,"zero":false},"axis":null},
   "stroke":{"field":"s","type":"nominal","scale":{"domain":["M","N","C"],"range":["#000000","#cc0000","#0000cc"]},
     "legend":{"orient":"none","legendX":33.5,"legendY":21,"title":null,"padding":0,"symbolType":"M-1.23,0H1.23M-0.233,0A0.233,0.233,0,1,0,0.233,0A0.233,0.233,0,1,0,-0.233,0Z","symbolSize":900,"symbolStrokeWidth":1.2,"labelFont":"Liberation Serif","labelFontSize":20,"labelFontWeight":"bold","labelOffset":11.5,"rowPadding":6.5,"labelExpr":"datum.label == 'M' ? 'Mn L₃-edge' : datum.label == 'N' ? 'Ni L₃-edge' : 'Co L₃-edge'","encode":{"labels":{"update":{"fill":{"scale":"stroke","field":"value"}}}}}},
   "order":{"value":null}
  }},
 {"mark":{"type":"point","shape":"circle","size":30,"strokeWidth":1,"opacity":1},
  "encoding":{
   "x":{"field":"x","type":"quantitative","scale":{"domain":[0,12],"nice":false,"zero":false},
     "axis":{"orient":"bottom","values":[0,1,2,3,4,5,6,7,8,9,10,11,12],"format":"d","labelExpr":"datum.value % 2 === 0 ? datum.label : ''","tickSize":{"condition":{"test":"datum.value % 2 === 0","value":-8},"value":-4},"labelPadding":13,"title":null}},
   "y":{"field":"y","type":"quantitative","scale":{"domain":[0,1],"nice":false,"zero":false},
     "axis":{"orient":"left","values":[0,0.1,0.2,0.3,0.4,0.5,0.6,0.7,0.8,0.9,1],"format":".1f","labelExpr":"round(datum.value*10) % 2 === 0 ? datum.label : ''","tickSize":{"condition":{"test":"round(datum.value*10) % 2 === 0","value":-8},"value":-4},"labelPadding":18,"title":"XMCD (a.u.)","titlePadding":10}},
   "stroke":{"field":"s","type":"nominal","scale":{"domain":["M","N","C"],"range":["#000000","#cc0000","#0000cc"]},
     "legend":{"orient":"none","legendX":33.5,"legendY":21,"title":null,"padding":0,"symbolType":"M-1.23,0H1.23M-0.233,0A0.233,0.233,0,1,0,0.233,0A0.233,0.233,0,1,0,-0.233,0Z","symbolSize":900,"symbolStrokeWidth":1.2,"labelFont":"Liberation Serif","labelFontSize":20,"labelFontWeight":"bold","labelOffset":11.5,"rowPadding":6.5,"labelExpr":"datum.label == 'M' ? 'Mn L₃-edge' : datum.label == 'N' ? 'Ni L₃-edge' : 'Co L₃-edge'","encode":{"labels":{"update":{"fill":{"scale":"stroke","field":"value"}}}}}},
   "fill":{"field":"s","type":"nominal","scale":{"domain":["M","N","C"],"range":["#000000","#ffffff","#0000cc"]},
     "legend":{"orient":"none","legendX":33.5,"legendY":21,"title":null,"padding":0,"symbolType":"M-1.23,0H1.23M-0.233,0A0.233,0.233,0,1,0,0.233,0A0.233,0.233,0,1,0,-0.233,0Z","symbolSize":900,"symbolStrokeWidth":1.2,"labelFont":"Liberation Serif","labelFontSize":20,"labelFontWeight":"bold","labelOffset":11.5,"rowPadding":6.5,"labelExpr":"datum.label == 'M' ? 'Mn L₃-edge' : datum.label == 'N' ? 'Ni L₃-edge' : 'Co L₃-edge'","encode":{"labels":{"update":{"fill":{"scale":"stroke","field":"value"}}}}}}
  }},
 {"data":{"values":[{"s":"M","x":3.76,"y":0.41,"a":"E","b":"= 639.6 eV"},{"s":"N","x":9.03,"y":0.3,"a":"E","b":"= 852.6 eV"},{"s":"C","x":9.52,"y":0.105,"a":"E","b":"= 778.1eV"}]},
  "layer":[
   {"mark":{"type":"text","align":"right","baseline":"middle","font":"Liberation Serif","fontSize":16,"fontWeight":"bold","fontStyle":"italic"},
    "encoding":{"x":{"field":"x","type":"quantitative","scale":{"domain":[0,12],"nice":false,"zero":false},"axis":null},"y":{"field":"y","type":"quantitative","scale":{"domain":[0,1],"nice":false,"zero":false},"axis":null},"text":{"field":"a"},"color":{"field":"s","type":"nominal","scale":{"domain":["M","N","C"],"range":["#000000","#cc0000","#0000cc"]},"legend":null}}},
   {"mark":{"type":"text","align":"left","baseline":"middle","dx":5,"font":"Liberation Serif","fontSize":16,"fontWeight":"bold"},
    "encoding":{"x":{"field":"x","type":"quantitative","scale":{"domain":[0,12],"nice":false,"zero":false},"axis":null},"y":{"field":"y","type":"quantitative","scale":{"domain":[0,1],"nice":false,"zero":false},"axis":null},"text":{"field":"b"},"color":{"field":"s","type":"nominal","scale":{"domain":["M","N","C"],"range":["#000000","#cc0000","#0000cc"]},"legend":null}}}
  ]},
 {"data":{"values":[{"x":8.96,"y":0.913,"a":"T","b":"= 150 K"},{"x":5.76,"y":-0.112,"a":"B","b":"(T)"}]},
  "layer":[
   {"mark":{"type":"text","align":"right","baseline":"middle","font":"Liberation Serif","fontSize":20,"fontWeight":"bold","fontStyle":"italic","color":"black"},
    "encoding":{"x":{"field":"x","type":"quantitative","scale":{"domain":[0,12],"nice":false,"zero":false},"axis":null},"y":{"field":"y","type":"quantitative","scale":{"domain":[0,1],"nice":false,"zero":false},"axis":null},"text":{"field":"a"}}},
   {"mark":{"type":"text","align":"left","baseline":"middle","dx":5,"font":"Liberation Serif","fontSize":20,"fontWeight":"bold","color":"black"},
    "encoding":{"x":{"field":"x","type":"quantitative","scale":{"domain":[0,12],"nice":false,"zero":false},"axis":null},"y":{"field":"y","type":"quantitative","scale":{"domain":[0,1],"nice":false,"zero":false},"axis":null},"text":{"field":"b"}}}
  ]},
 {"data":{"values":[{"x":0,"y":0}]},
  "mark":{"type":"point","opacity":0},
  "encoding":{
   "x":{"field":"x","type":"quantitative","scale":{"domain":[0,12],"nice":false,"zero":false},"axis":{"orient":"top","values":[0,1,2,3,4,5,6,7,8,9,10,11,12],"labels":false,"title":null,"tickSize":{"condition":{"test":"datum.value % 2 === 0","value":-8},"value":-4}}},
   "y":{"field":"y","type":"quantitative","scale":{"domain":[0,1],"nice":false,"zero":false},"axis":{"orient":"right","values":[0,0.1,0.2,0.3,0.4,0.5,0.6,0.7,0.8,0.9,1],"labels":false,"title":null,"tickSize":{"condition":{"test":"round(datum.value*10) % 2 === 0","value":-8},"value":-4}}}
  }}
],
"resolve":{"axis":{"x":"independent","y":"independent"}}
}
